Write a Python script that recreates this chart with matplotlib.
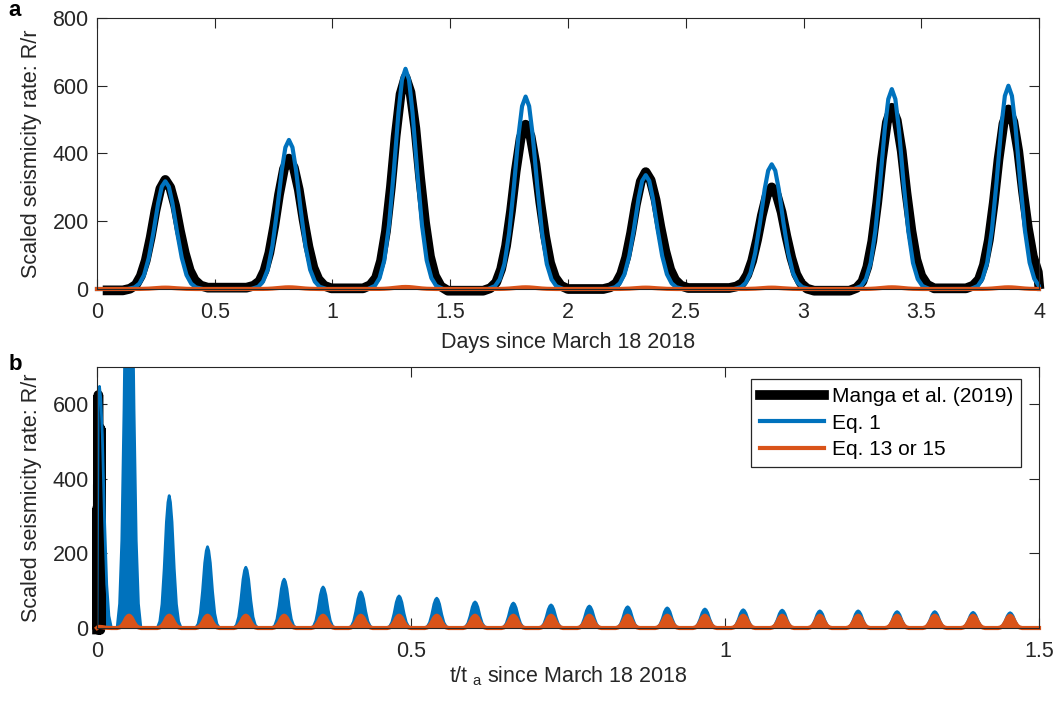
import numpy as np
import matplotlib.pyplot as plt

plt.rcParams['font.family'] = ['Liberation Sans', 'DejaVu Sans']
plt.rcParams['mathtext.fontset'] = 'custom'
plt.rcParams['mathtext.rm'] = 'Liberation Sans'
plt.rcParams['mathtext.it'] = 'Liberation Sans:italic'

TXT = '#262626'
BLUE = '#0072BD'
ORANGE = '#D95319'

# ---- panel a : daily peaks (days since March 18 2018) ----
peak_days = [0.29, 0.815, 1.31, 1.82, 2.33, 2.865, 3.375, 3.87]
manga_peak = [322, 385, 625, 485, 345, 300, 535, 530]
eq1_peak = [318, 440, 650, 568, 336, 368, 590, 600]
eq13_peak = [4, 5, 6, 5, 4, 4, 5, 5]
manga_base = [-4, 4, 2, -5, 0, 3, -5, 2, 14]  # flat parts between peaks
manga_start, manga_end = 0.045, 4.0

# shape of a single peak (offset in days, fraction of peak)
manga_dx = [-0.18, -0.15, -0.125, -0.104, -0.083, -0.062, -0.042, -0.021, 0.0,
            0.021, 0.042, 0.062, 0.083, 0.104, 0.125, 0.15, 0.18]
manga_shape = [0.0, 0.015, 0.05, 0.13, 0.27, 0.48, 0.72, 0.92, 1.0,
               0.93, 0.76, 0.53, 0.32, 0.16, 0.07, 0.02, 0.0]
eq1_dx = [-0.16, -0.13, -0.11, -0.09, -0.07, -0.05, -0.03, -0.015, 0.0,
          0.015, 0.03, 0.05, 0.07, 0.09, 0.11, 0.13, 0.16]
eq1_shape = [0.0, 0.015, 0.05, 0.13, 0.29, 0.53, 0.80, 0.95, 1.0,
             0.95, 0.80, 0.53, 0.29, 0.13, 0.05, 0.015, 0.0]

# ---- panel b : long run in t/t_a ----
ta_days = 600.0
cycle_t = [0.004, 0.051, 0.115, 0.176, 0.237, 0.298, 0.36, 0.42, 0.481, 0.541,
           0.602, 0.663, 0.723, 0.784, 0.845, 0.908, 0.968, 1.029, 1.091, 1.151,
           1.212, 1.274, 1.334, 1.395, 1.454]
eq1_cycle = [648, 1300, 355, 218, 163, 131, 110, 97, 86, 80, 70, 67, 62, 59,
             57, 54, 51, 49, 48, 46, 46, 44, 44, 42, 41]
eq13_cycle = [3, 33, 33, 33, 33, 33, 33, 33, 33, 33, 33, 33, 33, 33, 33, 33,
              33, 33, 33, 33, 33, 33, 33, 33, 33]
cycle_dx = [-0.019, -0.015, -0.0115, -0.008, -0.0045, -0.002, 0.0,
            0.002, 0.0045, 0.008, 0.0115, 0.015, 0.019]
cycle_shape = [0.0, 0.05, 0.18, 0.45, 0.8, 0.95, 1.0, 0.95, 0.8, 0.45, 0.18, 0.05, 0.0]


def build(centers, heights, dx, shape, base, t0, t1):
    t = [t0]
    y = [base[0]]
    for i, (c, h) in enumerate(zip(centers, heights)):
        for d, s in zip(dx, shape):
            b = base[i] if d < 0 else base[i + 1]
            if t0 <= c + d <= t1:
                t.append(c + d)
                y.append(b + s * (h - b))
    t.append(t1)
    y.append(base[-1])
    return np.array(t), np.array(y)


zeros_a = [0] * (len(peak_days) + 1)
manga_t, manga_y = build(peak_days, manga_peak, manga_dx, manga_shape,
                         manga_base, manga_start, manga_end)
eq1_t, eq1_y = build(peak_days, eq1_peak, eq1_dx, eq1_shape, zeros_a, 0.0, 4.0)
eq13_t, eq13_y = build(peak_days, eq13_peak, eq1_dx, eq1_shape, zeros_a, 0.0, 4.0)

zeros_b = [0] * (len(cycle_t) + 1)
b1_t, b1_y = build(cycle_t, eq1_cycle, cycle_dx, cycle_shape, zeros_b, 0.0, 1.5)
b13_t, b13_y = build(cycle_t, eq13_cycle, cycle_dx, cycle_shape, zeros_b, 0.0, 1.5)

fig = plt.figure(figsize=(10.6, 7.02), dpi=100)
ax1 = fig.add_axes([0.0915, 0.5883, 0.8887, 0.3861])
ax2 = fig.add_axes([0.0915, 0.1054, 0.8887, 0.3718])

# panel a
ax1.plot(manga_t, manga_y, color='k', lw=7, solid_joinstyle='round', clip_on=False)
ax1.plot(eq1_t, eq1_y, color=BLUE, lw=3, clip_on=False)
ax1.plot(eq13_t, eq13_y, color=ORANGE, lw=3, clip_on=False)
ax1.set_xlim(0, 4)
ax1.set_ylim(0, 800)
ax1.set_xticks(np.arange(0, 4.01, 0.5))
ax1.set_xticklabels(['0', '0.5', '1', '1.5', '2', '2.5', '3', '3.5', '4'])
ax1.set_yticks([0, 200, 400, 600, 800])
ax1.set_xlabel('Days since March 18 2018', labelpad=7)
ax1.set_ylabel('Scaled seismicity rate: R/r')

# panel b
lb, = ax2.plot(manga_t / ta_days, manga_y, color='k', lw=7, clip_on=False,
               label='Manga et al. (2019)')
ax2.fill_between(b1_t, b1_y, 0, color=BLUE, lw=0)
l1, = ax2.plot(b1_t, b1_y, color=BLUE, lw=2, label='Eq. 1')
ax2.fill_between(b13_t, b13_y, 0, color=ORANGE, lw=0, clip_on=False)
l13, = ax2.plot(b13_t, b13_y, color=ORANGE, lw=3, clip_on=False, label='Eq. 13 or 15')
ax2.set_xlim(0, 1.5)
ax2.set_ylim(0, 700)
ax2.set_xticks([0, 0.5, 1, 1.5])
ax2.set_xticklabels(['0', '0.5', '1', '1.5'])
ax2.set_yticks([0, 200, 400, 600])
ax2.set_xlabel(r't/t$\;_{\mathrm{a}}$ since March 18 2018', labelpad=2)
ax2.set_ylabel('Scaled seismicity rate: R/r')

l1_leg = plt.Line2D([], [], color=BLUE, lw=3)
leg = ax2.legend([lb, l1_leg, l13], ['Manga et al. (2019)', 'Eq. 1', 'Eq. 13 or 15'],
                 loc='upper right', bbox_to_anchor=(0.981, 0.954), borderaxespad=0,
                 fontsize=15, handlelength=3.1, handletextpad=0.35,
                 labelspacing=0.35, borderpad=0.4, fancybox=False,
                 framealpha=1, edgecolor=TXT)
leg.get_frame().set_linewidth(0.9)

for ax in (ax1, ax2):
    ax.tick_params(direction='in', length=7, width=0.8, top=True, right=True,
                   labelsize=15.5, colors=TXT)
    ax.tick_params(axis='x', pad=9)
    ax.tick_params(axis='y', pad=6)
    ax.xaxis.label.set_size(15.5)
    ax.yaxis.label.set_size(15.5)
    ax.xaxis.label.set_color(TXT)
    ax.yaxis.label.set_color(TXT)
    ax.yaxis.set_label_coords(-0.058, 0.5)
    for s in ax.spines.values():
        s.set_color(TXT)
        s.set_linewidth(0.8)

fig.text(0.008, 1 - 16 / 702, 'a', fontsize=16, fontweight='bold', va='baseline')
fig.text(0.008, 1 - 370 / 702, 'b', fontsize=16, fontweight='bold', va='baseline')

fig.savefig('out.png', dpi=100)
